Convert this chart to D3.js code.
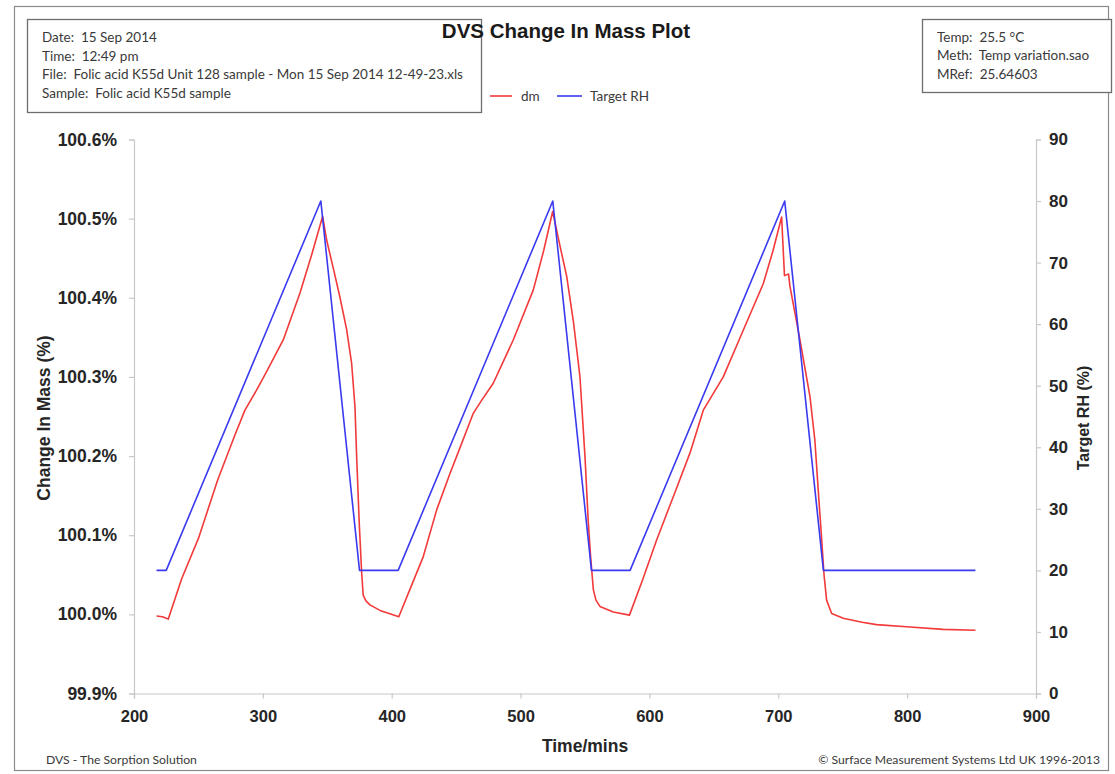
<!DOCTYPE html>
<html>
<head>
<meta charset="utf-8">
<script src="https://cdn.jsdelivr.net/npm/d3@7"></script>
<style>
  html, body { margin: 0; padding: 0; background: #ffffff; }
  svg { display: block; }
  .tick text { font-family: "Liberation Sans", Arial, sans-serif; font-weight: bold; fill: #262626; }
  .info { font-family: Lato, "Open Sans", sans-serif; font-size: 13.5px; fill: #3a3a3a; white-space: pre; }
</style>
</head>
<body>
<svg id="chart" width="1115" height="774"></svg>
<script>
// Target RH programme (minutes, %RH)
const rhTime  = [217.5, 225, 345, 375, 405, 525, 555, 585, 705, 735, 853];
const rhValue = [20, 20, 80, 20, 20, 80, 20, 20, 80, 20, 20];

// Change in mass (minutes, % of reference mass)
const dmTime = [
  217.5, 222, 226.6, 237, 250, 265, 278.4, 286.1, 295, 303, 315.9, 328.8, 338, 346.4,
  349.5, 355, 359.9, 365, 368.9, 371.5, 372.8, 374.8, 376.7, 377.9, 380, 383.1, 390.9, 398, 405.5,
  415, 424.5, 434.9, 445, 454.3, 463.3, 470, 478.8, 494.4, 509.9, 518, 524.9,
  530, 535.8, 541, 546.1, 550, 552.6, 554.5, 556.5, 558.5, 561.6, 571.9, 584.5,
  595, 605.6, 620, 631.5, 641.8, 657.3, 672.8, 688.4, 696, 702.6,
  704.8, 708, 709, 716.8, 724.6, 728.4, 731, 733.7, 735.5, 737.5, 741.4, 750.4, 765, 776.3, 802.2, 828, 853
];
const dmValue = [
  99.998, 99.997, 99.994, 100.045, 100.096, 100.17, 100.227, 100.258, 100.283, 100.307, 100.347, 100.406, 100.455, 100.503,
  100.473, 100.435, 100.40, 100.36, 100.317, 100.262, 100.199, 100.115, 100.052, 100.024, 100.017, 100.012, 100.005, 100.001, 99.997,
  100.035, 100.073, 100.132, 100.177, 100.216, 100.254, 100.271, 100.292, 100.347, 100.41, 100.46, 100.509,
  100.47, 100.427, 100.37, 100.30, 100.199, 100.115, 100.07, 100.031, 100.018, 100.010, 100.003, 99.999,
  100.045, 100.094, 100.155, 100.204, 100.258, 100.30, 100.359, 100.418, 100.46, 100.502,
  100.428, 100.43, 100.415, 100.347, 100.275, 100.22, 100.157, 100.094, 100.05, 100.018, 100.001, 99.995, 99.99, 99.987, 99.984, 99.981, 99.980
];

// Axis ticks
const timeTicks = [200, 300, 400, 500, 600, 700, 800, 900];
const massTicks = [99.9, 100.0, 100.1, 100.2, 100.3, 100.4, 100.5, 100.6];
const rhTicks   = [0, 10, 20, 30, 40, 50, 60, 70, 80, 90];

// Header text
const infoLines  = ["Date:  15 Sep 2014", "Time:  12:49 pm",
  "File:  Folic acid K55d Unit 128 sample - Mon 15 Sep 2014 12-49-23.xls",
  "Sample:  Folic acid K55d sample"];
const paramLines = ["Temp:  25.5 °C", "Meth:  Temp variation.sao", "MRef:  25.64603"];

const svg = d3.select("#chart");
const plot = { left: 134, right: 1036, top: 139.5, bottom: 693.5 };
const axisGrey = "#c8c8c8";
const dmColor = "#f23a3a";
const rhColor = "#3a3af0";
const boldFont = '"Liberation Sans", Arial, sans-serif';

const x  = d3.scaleLinear().domain([200, 900]).range([plot.left, plot.right]);
const yL = d3.scaleLinear().domain([99.9, 100.6]).range([plot.bottom, plot.top]);
const yR = d3.scaleLinear().domain([0, 90]).range([plot.bottom, plot.top]);

// Outer frame
svg.append("rect").attr("x", 14.5).attr("y", 6.5).attr("width", 1094).attr("height", 764)
  .attr("fill", "none").attr("stroke", "#8a8a8a").attr("stroke-width", 1.2);

// Axes
function styleAxis(g) {
  g.select(".domain").attr("stroke", axisGrey).attr("stroke-width", 1.2);
  g.selectAll(".tick line").attr("stroke", axisGrey).attr("stroke-width", 1.2);
}
svg.append("g").attr("transform", `translate(0,${plot.bottom})`)
  .call(d3.axisBottom(x).tickValues(timeTicks).tickSizeOuter(0).tickSize(5).tickPadding(12))
  .call(styleAxis)
  .call(g => g.selectAll(".tick text").style("font-size", "16.5px"));

svg.append("g").attr("transform", `translate(${plot.left},0)`)
  .call(d3.axisLeft(yL).tickValues(massTicks).tickSizeOuter(0).tickSize(5).tickPadding(12)
    .tickFormat(d => d.toFixed(1) + "%"))
  .call(styleAxis)
  .call(g => g.selectAll(".tick text").style("font-size", "17.5px"));

svg.append("g").attr("transform", `translate(${plot.right},0)`)
  .call(d3.axisRight(yR).tickValues(rhTicks).tickSizeOuter(0).tickSize(5).tickPadding(8))
  .call(styleAxis)
  .call(g => g.selectAll(".tick text").style("font-size", "17px"));

// Series
const dmLine = d3.line().x((d, i) => x(dmTime[i])).y(d => yL(d));
const rhLine = d3.line().x((d, i) => x(rhTime[i])).y(d => yR(d));

svg.append("path").datum(dmValue).attr("d", dmLine)
  .attr("fill", "none").attr("stroke", dmColor).attr("stroke-width", 1.6).attr("stroke-linejoin", "round");
svg.append("path").datum(rhValue).attr("d", rhLine)
  .attr("fill", "none").attr("stroke", rhColor).attr("stroke-width", 1.6).attr("stroke-linejoin", "round");

// Axis titles
svg.append("text").attr("transform", "translate(50,418) rotate(-90)").attr("text-anchor", "middle")
  .style("font-family", boldFont).style("font-weight", "bold").style("font-size", "17.5px")
  .attr("fill", "#262626").text("Change In Mass (%)");

svg.append("text").attr("transform", "translate(1089,418) rotate(-90)").attr("text-anchor", "middle")
  .style("font-family", boldFont).style("font-weight", "bold").style("font-size", "16px")
  .attr("fill", "#262626").text("Target RH (%)");

svg.append("text").attr("x", 585).attr("y", 752).attr("text-anchor", "middle")
  .style("font-family", boldFont).style("font-weight", "bold").style("font-size", "17.5px")
  .attr("fill", "#262626").text("Time/mins");

// Info boxes
svg.append("rect").attr("x", 27.5).attr("y", 19.5).attr("width", 454).attr("height", 93)
  .attr("fill", "#fff").attr("stroke", "#6e6e6e").attr("stroke-width", 1.3);
svg.append("g").selectAll("text").data(infoLines).join("text")
  .attr("class", "info").attr("x", 42).attr("y", (d, i) => 42 + i * 18.7).text(d => d);

svg.append("rect").attr("x", 922.5).attr("y", 19.5).attr("width", 189).attr("height", 73)
  .attr("fill", "#fff").attr("stroke", "#6e6e6e").attr("stroke-width", 1.3);
svg.append("g").selectAll("text").data(paramLines).join("text")
  .attr("class", "info").attr("x", 937).attr("y", (d, i) => 42 + i * 18.3).text(d => d);

// Chart title, drawn over the header box
svg.append("text").attr("x", 566).attr("y", 38).attr("text-anchor", "middle")
  .style("font-family", boldFont).style("font-weight", "bold").style("font-size", "20.5px")
  .attr("fill", "#1a1a1a").text("DVS Change In Mass Plot");

// Legend
const legend = [
  { label: "dm", color: dmColor, x0: 490, x1: 512, tx: 521 },
  { label: "Target RH", color: rhColor, x0: 557, x1: 582, tx: 590 }
];
const lg = svg.append("g");
lg.selectAll("line").data(legend).join("line")
  .attr("x1", d => d.x0).attr("x2", d => d.x1).attr("y1", 96).attr("y2", 96)
  .attr("stroke", d => d.color).attr("stroke-width", 1.6);
lg.selectAll("text").data(legend).join("text")
  .attr("class", "info").attr("x", d => d.tx).attr("y", 100.5).text(d => d.label);

// Footer
svg.append("text").attr("class", "info").attr("x", 46).attr("y", 764)
  .style("font-size", "12.2px").text("DVS - The Sorption Solution");
svg.append("text").attr("class", "info").attr("x", 1100).attr("y", 764).attr("text-anchor", "end")
  .style("font-size", "12.2px").text("© Surface Measurement Systems Ltd UK 1996-2013");
</script>
</body>
</html>
